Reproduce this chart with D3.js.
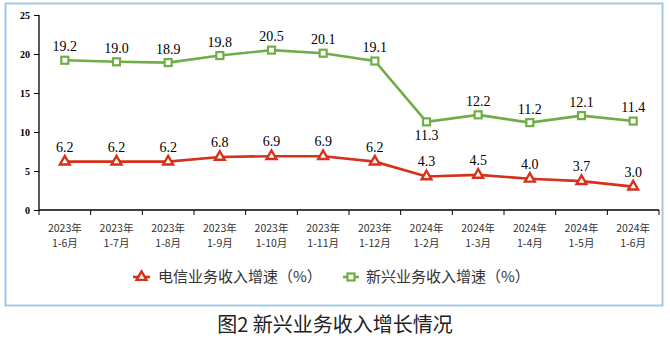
<!DOCTYPE html>
<html><head><meta charset="utf-8">
<script src="https://cdn.jsdelivr.net/npm/d3@7/dist/d3.min.js"></script>
<style>
html,body{margin:0;padding:0;background:#fff;}
svg{display:block;}
</style></head>
<body>
<svg id="c" width="670" height="340"></svg>
<script>
const years = ["2023年","2023年","2023年","2023年","2023年","2023年","2023年","2024年","2024年","2024年","2024年","2024年"];
const periods = ["1-6月","1-7月","1-8月","1-9月","1-10月","1-11月","1-12月","1-2月","1-3月","1-4月","1-5月","1-6月"];
const telecom = [6.2,6.2,6.2,6.8,6.9,6.9,6.2,4.3,4.5,4.0,3.7,3.0];
const emerging = [19.2,19.0,18.9,19.8,20.5,20.1,19.1,11.3,12.2,11.2,12.1,11.4];
const yTicks = [0,5,10,15,20,25];
const seriesNames = ["电信业务收入增速（%）","新兴业务收入增速（%）"];
const title = "图2 新兴业务收入增长情况";

const red = "#d5311b", green = "#70ad47";
const svg = d3.select("#c");
const idx = d3.range(years.length);

// frame
svg.append("rect").attr("x",5.5).attr("y",3.5).attr("width",657).attr("height",302)
  .attr("fill","none").attr("stroke","#a3c8e3").attr("stroke-width",2);

const x = d3.scaleBand().domain(idx).range([39,659]).padding(0);
const y = d3.scaleLinear().domain([0,25]).range([210,15]);
const cx = i => x(i) + x.bandwidth()/2;

// y axis
const ya = svg.append("g").attr("transform","translate(39,0)")
  .call(d3.axisLeft(y).tickValues(yTicks).tickSize(5).tickPadding(4));
ya.select(".domain").attr("stroke","#000").attr("stroke-width",1.3).attr("d","M0,"+y(25)+"V"+y(0));
ya.selectAll(".tick line").attr("stroke","#000").attr("stroke-width",1);
ya.selectAll("text").attr("font-family","'Liberation Serif','Times New Roman',serif")
  .attr("font-weight","bold").attr("font-size",10).attr("fill","#000");

// x axis
const xa = svg.append("g").attr("transform","translate(0,"+y(0)+")")
  .call(d3.axisBottom(x).tickSize(0).tickFormat(""));
xa.select(".domain").attr("stroke","#000").attr("stroke-width",1.3).attr("d","M39,0H659");
const bounds = idx.map(i => x(i)).concat([x.range()[1]]);
xa.selectAll(".bt").data(bounds).enter().append("line")
  .attr("x1",d=>d).attr("x2",d=>d).attr("y1",0).attr("y2",5).attr("stroke","#000").attr("stroke-width",1);
const lab = svg.append("g").attr("font-family","'Noto Sans CJK SC',sans-serif").attr("font-size",10.5).attr("fill","#333").attr("text-anchor","middle");
lab.selectAll(".yl").data(idx).enter().append("text").attr("x",cx).attr("y",232).text(i=>years[i]);
lab.selectAll(".pl").data(idx).enter().append("text").attr("x",cx).attr("y",247).text(i=>periods[i]);

// lines
const line = d3.line().x((d,i)=>cx(i)).y(d=>y(d));
svg.append("path").datum(emerging).attr("d",line).attr("fill","none").attr("stroke",green).attr("stroke-width",2.6);
svg.append("path").datum(telecom).attr("d",line).attr("fill","none").attr("stroke",red).attr("stroke-width",2.6);

const tri = d3.symbol().type(d3.symbolTriangle).size(42);
function drawTri(g, px, py){
  g.append("path").attr("d",tri()).attr("transform","translate("+px+","+py+")")
    .attr("fill","#fff").attr("stroke",red).attr("stroke-width",2.4);
}
function drawSq(g, px, py){
  g.append("rect").attr("x",px-3.5).attr("y",py-3.5).attr("width",7).attr("height",7)
    .attr("fill","#fff").attr("stroke",green).attr("stroke-width",2.2);
}
const mk = svg.append("g");
emerging.forEach((v,i)=>drawSq(mk,cx(i),y(v)));
telecom.forEach((v,i)=>drawTri(mk,cx(i),y(v)));

// data labels
const dl = svg.append("g").attr("font-family","'Liberation Serif','Times New Roman',serif").attr("font-size",14).attr("fill","#000").attr("text-anchor","middle");
dl.selectAll(".ge").data(emerging).enter().append("text")
  .attr("x",(d,i)=>cx(i)).attr("y",(d,i)=> i===7 ? y(d)+18 : y(d)-9).text(d=>d.toFixed(1));
dl.selectAll(".te").data(telecom).enter().append("text")
  .attr("x",(d,i)=>cx(i)).attr("y",d=>y(d)-10).text(d=>d.toFixed(1));

// legend
const lg = svg.append("g");
lg.append("line").attr("x1",133).attr("x2",150).attr("y1",277).attr("y2",277).attr("stroke",red).attr("stroke-width",2.6);
drawTri(lg,141.5,277);
lg.append("line").attr("x1",343).attr("x2",359).attr("y1",277).attr("y2",277).attr("stroke",green).attr("stroke-width",2.6);
drawSq(lg,351,277);
lg.selectAll("text").data(seriesNames).enter().append("text")
  .attr("x",(d,i)=> i===0 ? 158 : 366).attr("y",282)
  .attr("font-family","'Noto Sans CJK SC',sans-serif").attr("font-size",15).attr("fill","#333").text(d=>d);

// title
svg.append("text").attr("x",335).attr("y",332).attr("text-anchor","middle")
  .attr("font-family","'Noto Sans CJK SC',sans-serif").attr("font-size",20).attr("fill","#222").text(title);
</script>
</body></html>
